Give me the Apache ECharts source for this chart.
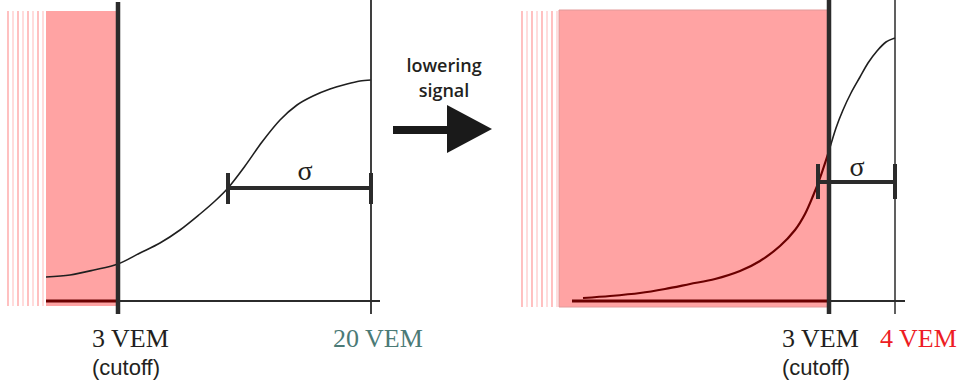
<!DOCTYPE html>
<html>
<head>
<meta charset="utf-8">
<script src="https://cdn.jsdelivr.net/npm/echarts@6/dist/echarts.min.js"></script>
<style>html,body{margin:0;padding:0;background:#fff}#c{width:962px;height:383px}</style>
</head>
<body>
<div id="c"></div>
<script>
// ---- diagram values (drawing frame units: x right, y down) ----
// Left panel ("before")
const leftCurve = [[46,277],[70,275],[94,270],[118,264],[140,253],[160,243],[180,230],[200,214],[215,201],[228,188],[245,166],[262,142],[280,120],[297,105],[313,96],[330,89],[347,84],[360,81],[371,80]];
const leftCutoffX = 118;
const leftMaxX = 371;
const leftShade = [[46,11,118,306]];
const leftStripesX = [8,13,18,23,28,33,38,43];
const leftSigma = [[228,188],[371,188]];
const leftBaseIn = [[46,301],[118,301]];
const leftBaseOut = [[118,301],[380,301]];

// Right panel ("after lowering signal")
const rightCurveIn = [[583,298],[610,296],[640,293],[665,289],[690,284],[715,279],[740,271],[760,261],[780,246],[795,230],[805,214],[813,196],[820,178],[829,151]];
const rightCurveOut = [[829,151],[836,128],[843,110],[851,93],[860,77],[868,63],[877,51],[886,42],[895,38]];
const rightCutoffX = 829;
const rightMaxX = 895;
const rightShade = [[559,10,829,307]];
const rightStripesX = [522,527,532,537,542,547,552,557];
const rightSigma = [[818,182],[895,182]];
const rightBaseIn = [[572,301],[829,301]];
const rightBaseOut = [[829,301],[905,301]];

// Arrow
const arrowPts = [[393,126],[447,126],[447,105],[492,129],[447,153],[447,134],[393,134]];

// Texts
const labels = [
  {text:'3 VEM', x:92, y:338, kind:'serif', color:'#231f20'},
  {text:'(cutoff)', x:92, y:367, kind:'sans', color:'#231f20'},
  {text:'20 VEM', x:333, y:338, kind:'serif', color:'#4b7a76'},
  {text:'3 VEM', x:782, y:338, kind:'serif', color:'#231f20'},
  {text:'(cutoff)', x:782, y:367, kind:'sans', color:'#231f20'},
  {text:'4 VEM', x:880, y:338, kind:'serif', color:'#ed1c24'},
  {text:'σ', x:305, y:170, kind:'sigma', color:'#231f20'},
  {text:'σ', x:857, y:166, kind:'sigma', color:'#231f20'},
  {text:'lowering', x:444, y:65, kind:'note', color:'#231f20'},
  {text:'signal', x:444, y:90, kind:'note', color:'#231f20'}
];

// ---- build ----
const DARK = '#2b2b2b';
const DARKRED = '#6b0000';
const PINK = '#ffa3a3';

function seg(data, color, width, z) {
  return {type:'line', data:data, symbol:'none', silent:true, z:z||5, animation:false,
    lineStyle:{color:color, width:width, cap:'butt'}};
}
function vline(x, y0, y1, color, width, z) { return seg([[x,y0],[x,y1]], color, width, z); }
function curve(data, color, width) {
  return {type:'line', data:data, symbol:'none', smooth:0.3, silent:true, z:6,
    animation:false, lineStyle:{color:color, width:width}};
}

function rectSeries(data, fill, stroke) {
  return {type:'custom', data:data, silent:true, z:1, animation:false, encode:{x:[0,2], y:[1,3]},
    renderItem:function(p, api){
      const a = api.coord([api.value(0), api.value(1)]);
      const b = api.coord([api.value(2), api.value(3)]);
      return {type:'rect', shape:{x:a[0], y:a[1], width:b[0]-a[0], height:b[1]-a[1]},
        style:{fill:fill, stroke:stroke||null, lineWidth:stroke?1:0}};
    }};
}
function stripeSeries(xs, y0, y1) {
  return {type:'custom', data:xs.map(v=>[v]), silent:true, z:1, animation:false, encode:{x:0},
    renderItem:function(p, api){
      const a = api.coord([api.value(0), y0]);
      const b = api.coord([api.value(0), y1]);
      return {type:'rect', shape:{x:a[0]-0.7, y:a[1], width:1.4, height:b[1]-a[1]},
        style:{fill: p.dataIndex % 2 === 0 ? '#ffa6a6' : '#ffcdcd'}};
    }};
}
const arrowSeries = {type:'custom', data:[0], silent:true, z:6, animation:false,
  renderItem:function(p, api){
    return {type:'polygon', shape:{points:arrowPts.map(pt=>api.coord(pt))}, style:{fill:'#1a1a1a'}};
  }};

const fontFor = {
  serif:{fontFamily:'"Liberation Serif", "DejaVu Serif", serif', fontSize:26},
  sans:{fontFamily:'"Liberation Sans", Arial, sans-serif', fontSize:22},
  sigma:{fontFamily:'"Liberation Serif", "DejaVu Serif", serif', fontSize:28},
  note:{fontFamily:'"Open Sans", "Noto Sans", sans-serif', fontSize:18, fontWeight:600, lineHeight:18}
};
const textSeries = {type:'custom', data:labels.map((l,i)=>[l.x,l.y,i]), silent:true, z:10, animation:false,
  renderItem:function(p, api){
    const l = labels[api.value(2)];
    const c = api.coord([api.value(0), api.value(1)]);
    const f = fontFor[l.kind];
    const centered = (l.kind === 'sigma' || l.kind === 'note');
    return {type:'text', x:c[0], y:c[1], style:Object.assign({text:l.text, fill:l.color,
      align: centered ? 'center' : 'left', verticalAlign:'middle'}, f)};
  }};

const series = [
  rectSeries(leftShade, PINK),
  rectSeries(rightShade, PINK, '#e29a9a'),
  stripeSeries(leftStripesX, 11, 306),
  stripeSeries(rightStripesX, 11, 307),
  seg(leftBaseIn, DARKRED, 3, 4),
  seg(leftBaseOut, DARK, 2, 4),
  seg(rightBaseIn, DARKRED, 3, 4),
  seg(rightBaseOut, DARK, 2, 4),
  curve(leftCurve, '#1f1f1f', 1.6),
  curve(rightCurveIn, DARKRED, 2.2),
  curve(rightCurveOut, '#1f1f1f', 1.6),
  vline(leftCutoffX, 2, 314, DARK, 4.5, 7),
  vline(leftMaxX, 0, 314, DARK, 1.8, 7),
  vline(rightCutoffX, 0, 314, DARK, 4.5, 7),
  vline(rightMaxX, 0, 314, DARK, 1.5, 7),
  seg(leftSigma, DARK, 4, 8),
  vline(leftSigma[0][0], 173, 204, DARK, 4, 8),
  vline(leftSigma[1][0], 173, 204, DARK, 4, 8),
  seg(rightSigma, DARK, 4, 8),
  vline(rightSigma[0][0], 164, 199, DARK, 4, 8),
  vline(rightSigma[1][0], 164, 199, DARK, 4, 8),
  arrowSeries,
  textSeries
];

const chart = echarts.init(document.getElementById('c'), null, {renderer:'svg'});
chart.setOption({
  animation:false,
  backgroundColor:'#ffffff',
  grid:{left:0, right:0, top:0, bottom:0},
  xAxis:{type:'value', min:0, max:962, show:false},
  yAxis:{type:'value', min:0, max:383, inverse:true, show:false},
  series:series
});
</script>
</body>
</html>
